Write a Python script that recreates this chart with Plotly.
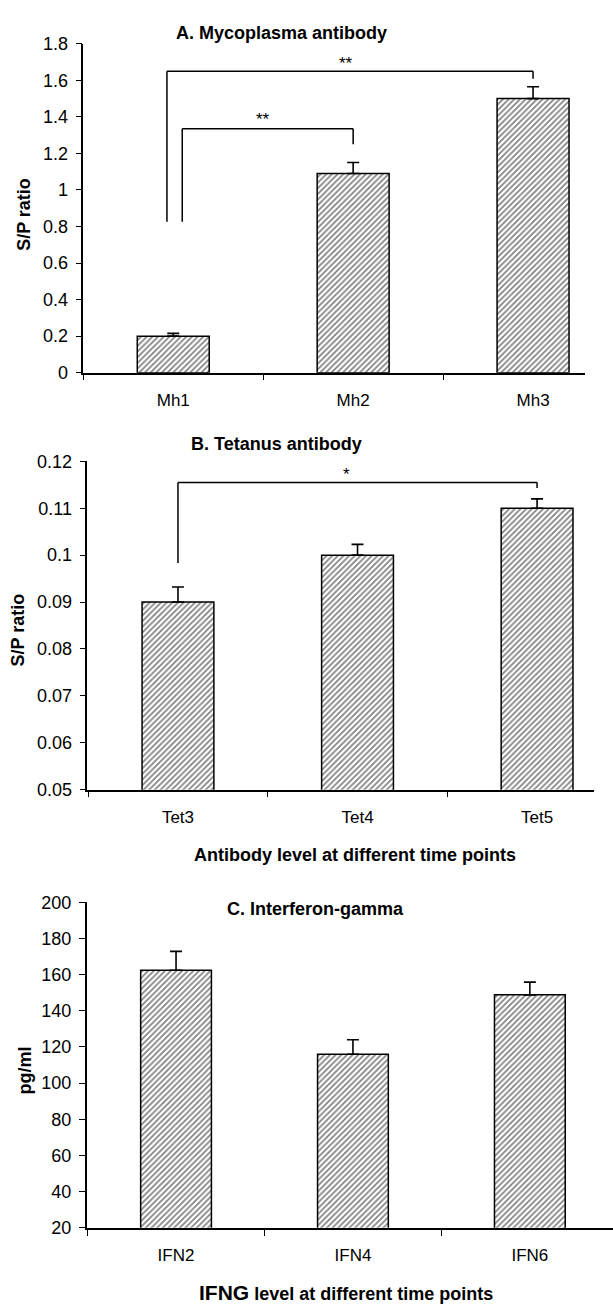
import plotly.graph_objects as go

# ---------------- data ----------------
mh_cats = ["Mh1", "Mh2", "Mh3"]
mh_vals = [0.20, 1.09, 1.50]
mh_err = [0.015, 0.06, 0.065]

tet_cats = ["Tet3", "Tet4", "Tet5"]
tet_vals = [0.090, 0.100, 0.110]
tet_err = [0.0032, 0.0023, 0.0020]

ifn_cats = ["IFN2", "IFN4", "IFN6"]
ifn_vals = [162.4, 116.0, 148.8]
ifn_err = [10.4, 8.0, 7.0]

# significance brackets: (x_left, x_right, y_left_bottom, y_top, y_right_bottom)
mh_brackets = [(-0.035, 2, 0.826, 1.65, 1.608), (0.05, 1, 0.826, 1.335, 1.25)]
mh_stars = [(0.96, 1.69, "**"), (0.50, 1.387, "**")]
tet_brackets = [(0.0, 2, 0.0983, 0.1155, 0.1143)]
tet_stars = [(0.94, 0.1171, "*")]

W, H = 613, 1313
FONT = "Liberation Sans, Arial, sans-serif"

fig = go.Figure()


def bar_trace(cats, vals, err, xa, ya):
    return go.Bar(
        x=cats, y=vals, width=0.4, xaxis=xa, yaxis=ya, showlegend=False,
        marker=dict(color="white", line=dict(color="black", width=1.5),
                    pattern=dict(shape="/", size=4, solidity=0.42,
                                 fgcolor="black", bgcolor="white")),
        error_y=dict(type="data", symmetric=False, array=err,
                     arrayminus=[0] * len(err), color="black",
                     thickness=1.6, width=6),
    )


fig.add_trace(bar_trace(mh_cats, mh_vals, mh_err, "x", "y"))
fig.add_trace(bar_trace(tet_cats, tet_vals, tet_err, "x2", "y2"))
fig.add_trace(bar_trace(ifn_cats, ifn_vals, ifn_err, "x3", "y3"))


def px_x(p):
    return p / W


def px_y(p):
    return 1 - p / H


def xaxis_cfg(x0, x1, y_anchor, rng):
    return dict(domain=[px_x(x0), px_x(x1)], anchor=y_anchor, type="category",
                range=rng, tickson="boundaries", ticks="outside", ticklen=6,
                tickwidth=1.2, tickcolor="black", showline=True,
                linecolor="black", linewidth=1.5, showgrid=False,
                zeroline=False, ticklabelstandoff=11,
                tickfont=dict(family=FONT, size=17, color="black"))


def yaxis_cfg(y_top, y_bot, x_anchor, rng, dtick):
    return dict(domain=[px_y(y_bot), px_y(y_top)], anchor=x_anchor,
                range=rng, dtick=dtick, ticks="outside", ticklen=6,
                tickwidth=1.2, tickcolor="black", showline=True,
                linecolor="black", linewidth=1.5, showgrid=False,
                zeroline=False, ticklabelstandoff=4,
                tickfont=dict(family=FONT, size=18, color="black"))


fig.update_layout(
    width=W, height=H, margin=dict(l=0, r=0, t=0, b=0),
    paper_bgcolor="white", plot_bgcolor="white",
    bargap=0.6,
    xaxis=xaxis_cfg(83.3, 584.5, "y", [-0.5, 2.286]),
    yaxis=yaxis_cfg(34.3, 368.3, "x", [0, 1.8], 0.2),
    xaxis2=xaxis_cfg(87.3, 594, "y2", [-0.505, 2.317]),
    yaxis2=yaxis_cfg(458.3, 791.7, "x2", [0.05, 0.12], 0.01),
    xaxis3=xaxis_cfg(86.7, 613, "y3", [-0.505, 2.47]),
    yaxis3=yaxis_cfg(906, 1236.7, "x3", [20, 200], 20),
)

shapes = []
annotations = []


def add_brackets(brs, xr, yr):
    for (xl, xr_, yl, yt, yrb) in brs:
        for (a0, b0, a1, b1) in [(xl, yl, xl, yt), (xl, yt, xr_, yt), (xr_, yt, xr_, yrb)]:
            shapes.append(dict(type="line", xref=xr, yref=yr, x0=a0, y0=b0,
                               x1=a1, y1=b1, line=dict(color="black", width=1.5)))


def add_stars(stars, xr, yr):
    for (x, y, t) in stars:
        annotations.append(dict(x=x, y=y, xref=xr, yref=yr, text=t, showarrow=False,
                                font=dict(family=FONT, size=17, color="black")))


add_brackets(mh_brackets, "x", "y")
add_stars(mh_stars, "x", "y")
add_brackets(tet_brackets, "x2", "y2")
add_stars(tet_stars, "x2", "y2")


def paper_text(text, x, y, size, bold=True, angle=0):
    annotations.append(dict(x=px_x(x), y=px_y(y), xref="paper", yref="paper",
                            text=("<b>%s</b>" % text) if bold else text,
                            showarrow=False, textangle=angle,
                            xanchor="center", yanchor="middle",
                            font=dict(family=FONT, size=size, color="black")))


paper_text("A. Mycoplasma antibody", 281, 23, 18)
paper_text("B. Tetanus antibody", 276, 441, 18)
paper_text("Antibody level at different time points", 355, 858, 18)
paper_text("C. Interferon-gamma", 315, 913, 18)
paper_text("<span style='font-size:21px'>IFNG</span> level at different time points",
           346, 1302, 18)
paper_text("S/P ratio", 24, 207, 18, angle=-90)
paper_text("S/P ratio", 18, 630, 18, angle=-90)
paper_text("pg/ml", 25, 1077, 18, angle=-90)

fig.update_layout(shapes=shapes, annotations=annotations)

fig.write_html("out.html")
